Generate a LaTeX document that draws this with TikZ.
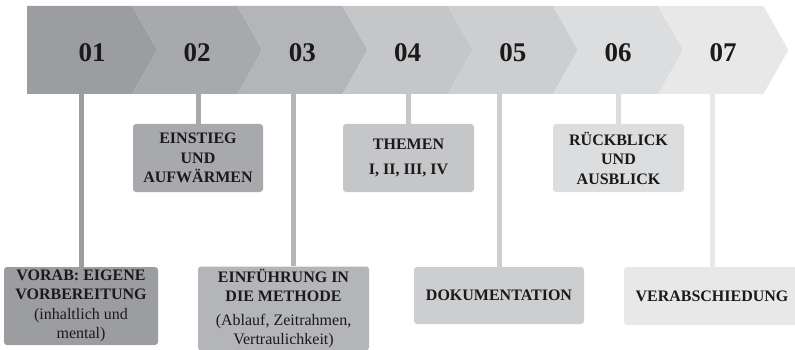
\documentclass[tikz,border=0pt]{standalone}
\usepackage{fontspec}
\setmainfont{Liberation Serif}
\usetikzlibrary{positioning}

\definecolor{tone1}{HTML}{9C9DA0}
\definecolor{tone2}{HTML}{A8A9AC}
\definecolor{tone3}{HTML}{B4B5B8}
\definecolor{tone4}{HTML}{C5C6C8}
\definecolor{tone5}{HTML}{CDCECF}
\definecolor{tone6}{HTML}{DCDDDE}
\definecolor{tone7}{HTML}{E8E8E9}
\definecolor{ink}{HTML}{1C191A}

\begin{document}
\begin{tikzpicture}[
		x=1pt,y=-1pt,
		num/.style={font=\fontsize{27}{30}\selectfont\bfseries,text=ink,inner sep=0pt},
		card/.style={fill=#1,rounded corners=3pt,align=center,text=ink,inner sep=2pt,
			font=\fontsize{16}{19.5}\selectfont},
		stem/.style={draw=#1,line width=5pt}
		]
		\useasboundingbox (0,0) rectangle (795,350);
		
		% Phase band
		\foreach \i/\c in {1/tone1,2/tone2,3/tone3,4/tone4,5/tone5,6/tone6,7/tone7}{
			\pgfmathsetmacro\segx{27+105.2*(\i-1)}
			\ifnum\i=1
			\fill[\c] (\segx,6) -- ++(105.2,0) -- ++(25,44) -- ++(-25,44) -- (\segx,94) -- cycle;
			\else
			\fill[\c] (\segx,6) -- ++(105.2,0) -- ++(25,44) -- ++(-25,44) -- (\segx,94) -- ++(25,-44) -- cycle;
			\fi
			\node[num] (num\i) at (\segx+65,52.5) {0\i};
		}
		\coordinate (band) at (0,94);
		
		% Step cards
		\node[card=tone1,minimum width=154,minimum height=78] (box1) at (81,306)
		{\textbf{VORAB: EIGENE}\\\textbf{VORBEREITUNG}\\(inhaltlich und\\mental)};
		\node[card=tone2,minimum width=130,minimum height=68] (box2) at (198,158)
		{\textbf{EINSTIEG}\\\textbf{UND}\\\textbf{AUFWÄRMEN}};
		\node[card=tone3,minimum width=171,minimum height=84] (box3) at (283.5,308.5)
		{\textbf{EINFÜHRUNG IN}\\\textbf{DIE METHODE}\\[4pt](Ablauf, Zeitrahmen,\\Vertraulichkeit)};
		\node[card=tone4,minimum width=131,minimum height=68] (box4) at (408.5,158)
		{\textbf{THEMEN}\\[5pt]\textbf{I, II, III, IV}};
		\node[card=tone5,minimum width=170,minimum height=57] (box5) at (499,295.5)
		{\textbf{DOKUMENTATION}};
		\node[card=tone6,minimum width=131,minimum height=68] (box6) at (618.5,158)
		{\textbf{RÜCKBLICK}\\\textbf{UND}\\\textbf{AUSBLICK}};
		\node[card=tone7,minimum width=176,minimum height=58] (box7) at (712,296)
		{\textbf{VERABSCHIEDUNG}};
		
		% Stems
		\coordinate (foot3) at (293,94);
		\draw[stem=tone1] (box1.north |- band) -- (box1.north);
		\draw[stem=tone2] (box2.north |- band) -- (box2.north);
		\draw[stem=tone3] (foot3) -- (foot3 |- box3.north);
		\draw[stem=tone4] (box4.north |- band) -- (box4.north);
		\draw[stem=tone5] (box5.north |- band) -- (box5.north);
		\draw[stem=tone6] (box6.north |- band) -- (box6.north);
		\draw[stem=tone7] (box7.north |- band) -- (box7.north);
		
	\end{tikzpicture}
\end{document}
